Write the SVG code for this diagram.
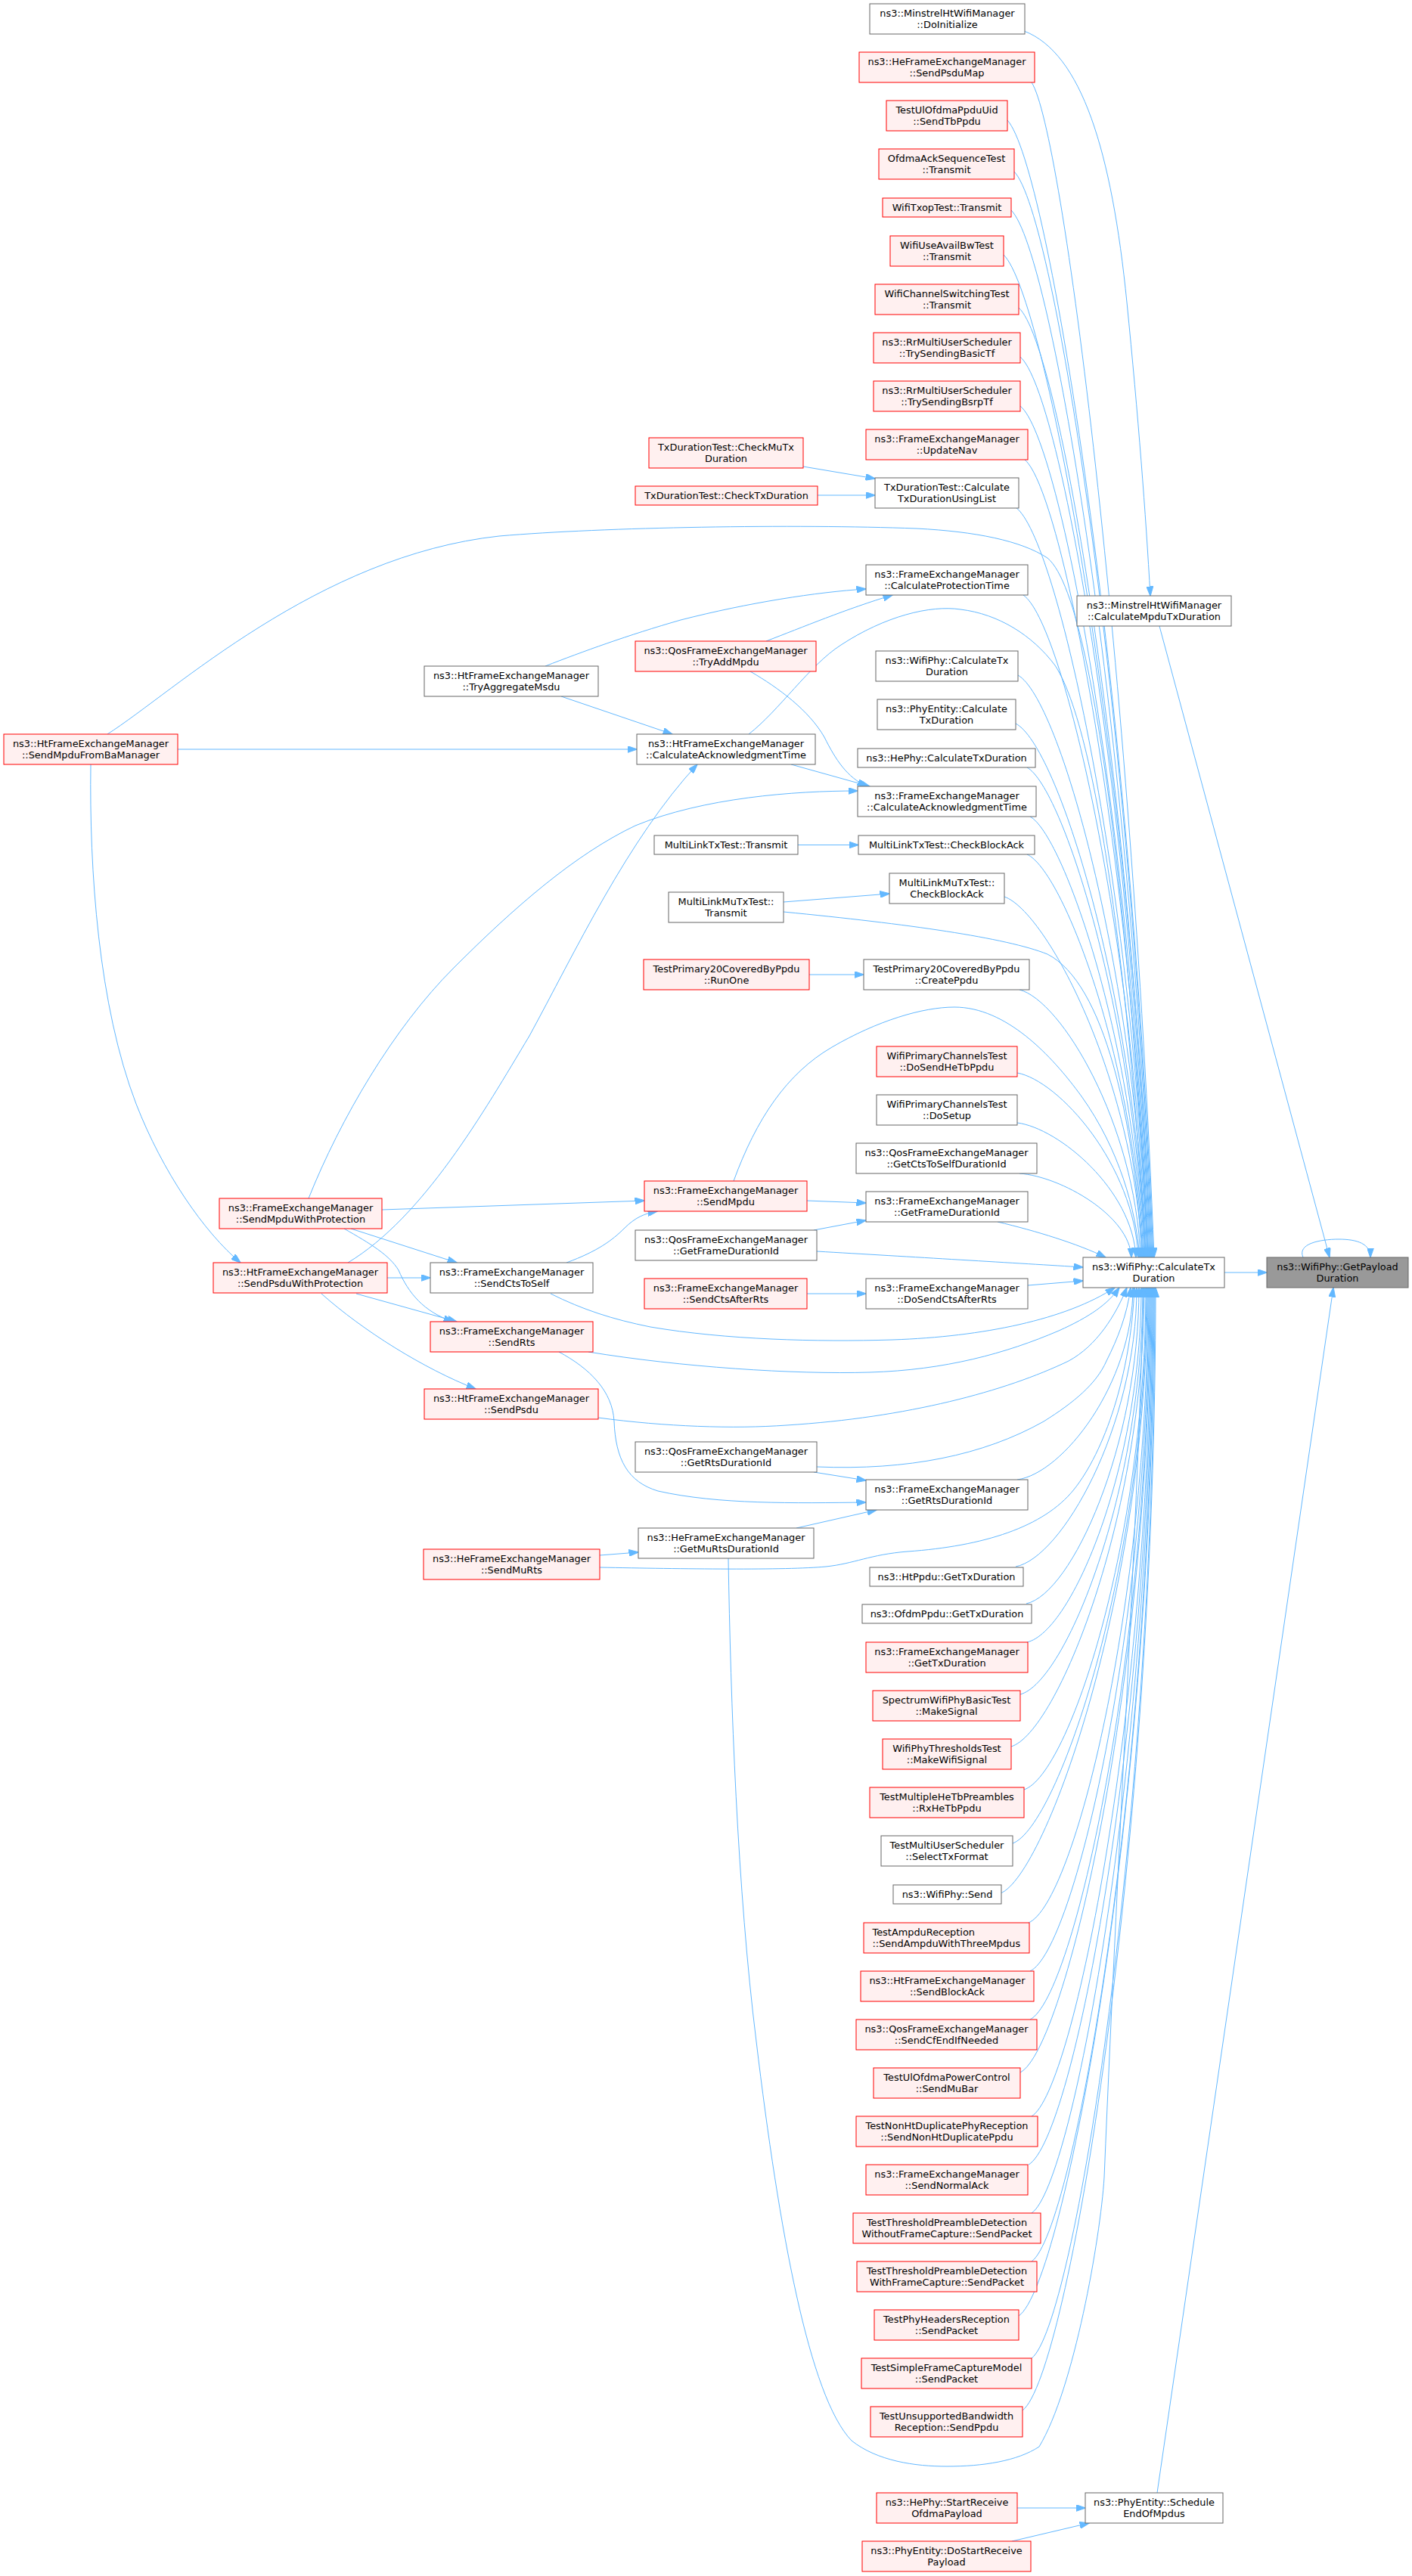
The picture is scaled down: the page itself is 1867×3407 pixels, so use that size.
<svg xmlns="http://www.w3.org/2000/svg" width="1867" height="3407" viewBox="0 0 1867 3407">
<style>
text{font-family:"DejaVu Sans","Liberation Sans",sans-serif;font-size:12.9px;text-anchor:middle;fill:#000}
.g rect{fill:#fff;stroke:#666;stroke-width:1}
.r rect{fill:#fff0f0;stroke:#f00;stroke-width:1}
.root rect{fill:#999;stroke:#666;stroke-width:1}
#edges path{fill:none;stroke:#63b8ff;stroke-width:1;marker-end:url(#ah)}
</style>
<defs>
<marker id="ah" markerWidth="13" markerHeight="9" refX="12.5" refY="4.5" orient="auto" markerUnits="userSpaceOnUse"><path d="M0,0L13,4.5L0,9z" fill="#63b8ff" stroke="#63b8ff" stroke-width="1"/></marker>
</defs>
<rect width="1867" height="3407" fill="#fff"/>
<g id="edges">
<path d="M1364,109 C1405,171 1495,886 1526,1663"/>
<path d="M1332,159 C1387,219 1495,911 1525,1663"/>
<path d="M1341,227 C1396,284 1495,945 1524,1663"/>
<path d="M1337,278 C1392,333 1495,970 1523,1663"/>
<path d="M1327,337 C1382,390 1495,1000 1522,1663"/>
<path d="M1347,407 C1402,457 1496,1035 1521,1663"/>
<path d="M1349,472 C1404,520 1496,1067 1520,1663"/>
<path d="M1349,537 C1404,582 1496,1100 1519,1663"/>
<path d="M1355,608 C1405,650 1497,1135 1518,1663"/>
<path d="M1343,671 C1398,711 1497,1167 1517,1663"/>
<path d="M1353,787 C1405,822 1498,1225 1516,1663"/>
<path d="M1346,893 C1401,924 1500,1278 1515,1663"/>
<path d="M1343,957 C1398,985 1500,1310 1514,1663"/>
<path d="M1358,1015 C1405,1041 1500,1339 1513,1663"/>
<path d="M1362,1080 C1405,1103 1500,1372 1512,1663"/>
<path d="M1358,1130 C1405,1151 1500,1397 1511,1663"/>
<path d="M1328,1186 C1383,1205 1500,1425 1510,1663"/>
<path d="M1348,1309 C1403,1323 1501,1486 1508,1663"/>
<path d="M1345,1419 C1400,1429 1500,1541 1505,1663"/>
<path d="M1345,1485 C1400,1492 1498,1574 1502,1663"/>
<path d="M1348,1552 C1403,1556 1494,1608 1496,1663"/>
<path d="M1319,1616 C1370,1628 1425,1645 1462,1663"/>
<path d="M1359,1700 L1432,1694"/>
<path d="M1345,1957 C1405,1949 1498,1830 1498,1703"/>
<path d="M1343,2072 C1403,2061 1503,1888 1503,1703"/>
<path d="M1357,2121 C1417,2108 1506,1912 1506,1703"/>
<path d="M1358,2172 C1418,2158 1509,1938 1509,1703"/>
<path d="M1349,2241 C1409,2225 1511,1972 1511,1703"/>
<path d="M1337,2310 C1397,2292 1513,2007 1513,1703"/>
<path d="M1354,2367 C1414,2347 1515,2035 1515,1703"/>
<path d="M1339,2438 C1399,2416 1516,2071 1516,1703"/>
<path d="M1323,2504 C1383,2480 1517,2104 1517,1703"/>
<path d="M1360,2543 C1420,2518 1518,2123 1518,1703"/>
<path d="M1362,2607 C1420,2580 1519,2155 1519,1703"/>
<path d="M1362,2671 C1420,2642 1520,2187 1520,1703"/>
<path d="M1349,2741 C1409,2710 1521,2222 1521,1703"/>
<path d="M1364,2799 C1420,2766 1522,2251 1522,1703"/>
<path d="M1360,2863 C1420,2828 1523,2283 1523,1703"/>
<path d="M1364,2927 C1420,2890 1524,2315 1524,1703"/>
<path d="M1364,2991 C1420,2952 1525,2347 1525,1703"/>
<path d="M1347,3063 C1407,3022 1526,2383 1526,1703"/>
<path d="M1364,3119 C1420,3077 1527,2411 1527,1703"/>
<path d="M1352,3188 C1412,3143 1528,2446 1528,1703"/>
<path d="M142,971 C230,915 420,735 660,709 C800,697 1050,693 1212,699 C1290,703 1350,715 1385,738 C1460,800 1505,1400 1518,1663"/>
<path d="M990,971 C1030,940 1070,880 1112,853 C1170,815 1230,800 1270,806 C1320,812 1365,840 1395,880 C1460,980 1500,1400 1515,1663"/>
<path d="M1036,1206 C1200,1222 1330,1240 1385,1262 C1460,1300 1500,1480 1510,1663"/>
<path d="M970,1562 C1000,1480 1040,1420 1100,1385 C1160,1350 1220,1332 1262,1332 C1330,1332 1390,1395 1430,1450 C1480,1520 1502,1600 1507,1663"/>
<path d="M1080,1655 C1200,1662 1350,1671 1432,1676"/>
<path d="M728,1711 C770,1732 810,1745 860,1755 C960,1772 1080,1775 1180,1772 C1300,1768 1410,1745 1474,1703"/>
<path d="M778,1788 C900,1808 1050,1818 1150,1815 C1250,1812 1330,1790 1400,1760 C1440,1742 1465,1725 1480,1703"/>
<path d="M791,1875 C880,1887 970,1890 1040,1885 C1200,1875 1330,1840 1413,1800 C1450,1780 1475,1740 1490,1703"/>
<path d="M1080,1940 C1200,1945 1300,1925 1380,1880 C1420,1855 1450,1830 1463,1800 C1478,1770 1490,1740 1495,1703"/>
<path d="M793,2073 C900,2075 1040,2077 1092,2072 C1130,2068 1150,2056 1200,2052 C1300,2045 1380,2020 1420,1970 C1460,1920 1495,1820 1500,1703"/>
<path d="M963,2061 C966,2250 975,2500 1000,2700 C1030,2950 1070,3170 1126,3228 C1160,3255 1210,3262 1252,3262 C1300,3262 1345,3255 1374,3236 C1420,3160 1455,2960 1460,2880 C1480,2400 1505,2000 1512,1703"/>
<path d="M1062,617 L1157,633"/>
<path d="M1081,655 L1157,655"/>
<path d="M721,881 C770,862 830,840 900,820 C990,797 1080,783 1145,779"/>
<path d="M1013,848 C1060,830 1120,805 1180,787"/>
<path d="M992,888 C1030,910 1070,940 1090,975 C1105,1005 1120,1028 1146,1040"/>
<path d="M742,921 L889,971"/>
<path d="M235,991 L842,991"/>
<path d="M1046,1011 L1150,1040"/>
<path d="M408,1585 C450,1480 520,1360 600,1280 C680,1200 760,1130 840,1092 C930,1055 1050,1046 1134,1046"/>
<path d="M460,1670 C560,1610 640,1470 700,1370 C760,1260 830,1110 922,1011"/>
<path d="M120,1011 C118,1150 130,1330 180,1460 C215,1550 270,1630 318,1670"/>
<path d="M505,1600 L852,1588"/>
<path d="M464,1625 L604,1670"/>
<path d="M455,1625 C490,1645 515,1660 527,1680 C540,1710 560,1735 599,1748"/>
<path d="M512,1690 L569,1690"/>
<path d="M471,1711 L604,1748"/>
<path d="M425,1711 C480,1760 560,1810 629,1837"/>
<path d="M749,1670 C790,1655 810,1640 825,1625 C840,1610 852,1605 869,1602"/>
<path d="M739,1788 C780,1810 810,1840 812,1880 C814,1930 830,1960 870,1972 C950,1990 1050,1988 1145,1987"/>
<path d="M1070,1289 L1142,1289"/>
<path d="M1067,1588 L1145,1591"/>
<path d="M1076,1627 L1145,1614"/>
<path d="M1067,1711 L1145,1711"/>
<path d="M1076,1947 L1145,1958"/>
<path d="M1053,2021 L1159,1997"/>
<path d="M793,2057 L844,2053"/>
<path d="M1055,1117.5 L1135,1117.5"/>
<path d="M1036,1193 L1176,1182"/>
<path d="M1345,3317 L1435,3317"/>
<path d="M1338,3361 L1440,3337"/>
<path d="M1530,3297 L1763,1703"/>
<path d="M1533,828 L1758,1663"/>
<path d="M1619,1683 L1675,1683"/>
<path d="M1723,1663 C1715,1645 1745,1639 1770,1639 C1795,1639 1812,1645 1812,1663"/>
<path d="M1354,41 C1430,70 1470,200 1490,400 C1505,550 1515,680 1521,788"/>
</g>
<g id="nodes">
<g id="n_doinit" class="g"><rect x="1150" y="5" width="205" height="40"/><text x="1252.5" y="21.5">ns3::MinstrelHtWifiManager</text><text x="1252.5" y="36.5">::DoInitialize</text></g>
<g id="n_sendpsdumap" class="r"><rect x="1136" y="69" width="232" height="40"/><text x="1252" y="85.5">ns3::HeFrameExchangeManager</text><text x="1252" y="100.5">::SendPsduMap</text></g>
<g id="n_sendtbppdu" class="r"><rect x="1172" y="133" width="160" height="40"/><text x="1252" y="149.5">TestUlOfdmaPpduUid</text><text x="1252" y="164.5">::SendTbPpdu</text></g>
<g id="n_ofdmaack" class="r"><rect x="1162" y="197" width="179" height="40"/><text x="1251.5" y="213.5">OfdmaAckSequenceTest</text><text x="1251.5" y="228.5">::Transmit</text></g>
<g id="n_txop" class="r"><rect x="1167" y="262" width="170" height="25"/><text x="1252" y="279">WifiTxopTest::Transmit</text></g>
<g id="n_availbw" class="r"><rect x="1177" y="312" width="150" height="40"/><text x="1252" y="328.5">WifiUseAvailBwTest</text><text x="1252" y="343.5">::Transmit</text></g>
<g id="n_chswitch" class="r"><rect x="1157" y="376" width="190" height="40"/><text x="1252" y="392.5">WifiChannelSwitchingTest</text><text x="1252" y="407.5">::Transmit</text></g>
<g id="n_basictf" class="r"><rect x="1155" y="440" width="194" height="40"/><text x="1252" y="456.5">ns3::RrMultiUserScheduler</text><text x="1252" y="471.5">::TrySendingBasicTf</text></g>
<g id="n_bsrptf" class="r"><rect x="1155" y="504" width="194" height="40"/><text x="1252" y="520.5">ns3::RrMultiUserScheduler</text><text x="1252" y="535.5">::TrySendingBsrpTf</text></g>
<g id="n_updatenav" class="r"><rect x="1145" y="568" width="214" height="40"/><text x="1252" y="584.5">ns3::FrameExchangeManager</text><text x="1252" y="599.5">::UpdateNav</text></g>
<g id="n_txdurlist" class="g"><rect x="1157" y="632" width="190" height="40"/><text x="1252" y="648.5">TxDurationTest::Calculate</text><text x="1252" y="663.5">TxDurationUsingList</text></g>
<g id="n_protection" class="g"><rect x="1145" y="747" width="214" height="40"/><text x="1252" y="763.5">ns3::FrameExchangeManager</text><text x="1252" y="778.5">::CalculateProtectionTime</text></g>
<g id="n_wifiphycalc2" class="g"><rect x="1158" y="861" width="188" height="40"/><text x="1252" y="877.5">ns3::WifiPhy::CalculateTx</text><text x="1252" y="892.5">Duration</text></g>
<g id="n_phyentitycalc" class="g"><rect x="1160" y="925" width="183" height="40"/><text x="1251.5" y="941.5">ns3::PhyEntity::Calculate</text><text x="1251.5" y="956.5">TxDuration</text></g>
<g id="n_hephycalc" class="g"><rect x="1134" y="990" width="235" height="25"/><text x="1251.5" y="1007">ns3::HePhy::CalculateTxDuration</text></g>
<g id="n_femack" class="g"><rect x="1134" y="1040" width="236" height="40"/><text x="1252" y="1056.5">ns3::FrameExchangeManager</text><text x="1252" y="1071.5">::CalculateAcknowledgmentTime</text></g>
<g id="n_mltxcheck" class="g"><rect x="1135" y="1105" width="233" height="25"/><text x="1251.5" y="1122">MultiLinkTxTest::CheckBlockAck</text></g>
<g id="n_mlmucheck" class="g"><rect x="1176" y="1155" width="152" height="40"/><text x="1252" y="1171.5">MultiLinkMuTxTest::</text><text x="1252" y="1186.5">CheckBlockAck</text></g>
<g id="n_createppdu" class="g"><rect x="1142" y="1269" width="219" height="40"/><text x="1251.5" y="1285.5">TestPrimary20CoveredByPpdu</text><text x="1251.5" y="1300.5">::CreatePpdu</text></g>
<g id="n_dosendhetb" class="r"><rect x="1159" y="1384" width="186" height="40"/><text x="1252" y="1400.5">WifiPrimaryChannelsTest</text><text x="1252" y="1415.5">::DoSendHeTbPpdu</text></g>
<g id="n_dosetup" class="g"><rect x="1159" y="1448" width="186" height="40"/><text x="1252" y="1464.5">WifiPrimaryChannelsTest</text><text x="1252" y="1479.5">::DoSetup</text></g>
<g id="n_ctstoself" class="g"><rect x="1132" y="1512" width="239" height="40"/><text x="1251.5" y="1528.5">ns3::QosFrameExchangeManager</text><text x="1251.5" y="1543.5">::GetCtsToSelfDurationId</text></g>
<g id="n_femgfdi" class="g"><rect x="1145" y="1576" width="214" height="40"/><text x="1252" y="1592.5">ns3::FrameExchangeManager</text><text x="1252" y="1607.5">::GetFrameDurationId</text></g>
<g id="n_dosendcts" class="g"><rect x="1145" y="1691" width="214" height="40"/><text x="1252" y="1707.5">ns3::FrameExchangeManager</text><text x="1252" y="1722.5">::DoSendCtsAfterRts</text></g>
<g id="n_femgetrts" class="g"><rect x="1145" y="1957" width="214" height="40"/><text x="1252" y="1973.5">ns3::FrameExchangeManager</text><text x="1252" y="1988.5">::GetRtsDurationId</text></g>
<g id="n_htppdu" class="g"><rect x="1150" y="2073" width="203" height="25"/><text x="1251.5" y="2090">ns3::HtPpdu::GetTxDuration</text></g>
<g id="n_ofdmppdu" class="g"><rect x="1140" y="2122" width="224" height="25"/><text x="1252" y="2139">ns3::OfdmPpdu::GetTxDuration</text></g>
<g id="n_femgettx" class="r"><rect x="1145" y="2172" width="214" height="40"/><text x="1252" y="2188.5">ns3::FrameExchangeManager</text><text x="1252" y="2203.5">::GetTxDuration</text></g>
<g id="n_makesignal" class="r"><rect x="1154" y="2236" width="195" height="40"/><text x="1251.5" y="2252.5">SpectrumWifiPhyBasicTest</text><text x="1251.5" y="2267.5">::MakeSignal</text></g>
<g id="n_makewifisignal" class="r"><rect x="1167" y="2300" width="170" height="40"/><text x="1252" y="2316.5">WifiPhyThresholdsTest</text><text x="1252" y="2331.5">::MakeWifiSignal</text></g>
<g id="n_rxhetb" class="r"><rect x="1150" y="2364" width="204" height="40"/><text x="1252" y="2380.5">TestMultipleHeTbPreambles</text><text x="1252" y="2395.5">::RxHeTbPpdu</text></g>
<g id="n_selecttx" class="g"><rect x="1165" y="2428" width="174" height="40"/><text x="1252" y="2444.5">TestMultiUserScheduler</text><text x="1252" y="2459.5">::SelectTxFormat</text></g>
<g id="n_wifiphysend" class="g"><rect x="1181" y="2493" width="143" height="25"/><text x="1252.5" y="2510">ns3::WifiPhy::Send</text></g>
<g id="n_ampdu" class="r"><rect x="1142" y="2543" width="219" height="40"/><text x="1153.5" y="2559.5" style="text-anchor:start">TestAmpduReception</text><text x="1153.5" y="2574.5" style="text-anchor:start">::SendAmpduWithThreeMpdus</text></g>
<g id="n_sendblockack" class="r"><rect x="1138" y="2607" width="229" height="40"/><text x="1252.5" y="2623.5">ns3::HtFrameExchangeManager</text><text x="1252.5" y="2638.5">::SendBlockAck</text></g>
<g id="n_cfend" class="r"><rect x="1132" y="2671" width="239" height="40"/><text x="1251.5" y="2687.5">ns3::QosFrameExchangeManager</text><text x="1251.5" y="2702.5">::SendCfEndIfNeeded</text></g>
<g id="n_mubar" class="r"><rect x="1155" y="2735" width="194" height="40"/><text x="1252" y="2751.5">TestUlOfdmaPowerControl</text><text x="1252" y="2766.5">::SendMuBar</text></g>
<g id="n_nonht" class="r"><rect x="1132" y="2799" width="240" height="40"/><text x="1252" y="2815.5">TestNonHtDuplicatePhyReception</text><text x="1252" y="2830.5">::SendNonHtDuplicatePpdu</text></g>
<g id="n_normalack" class="r"><rect x="1145" y="2863" width="214" height="40"/><text x="1252" y="2879.5">ns3::FrameExchangeManager</text><text x="1252" y="2894.5">::SendNormalAck</text></g>
<g id="n_withoutfc" class="r"><rect x="1128" y="2927" width="248" height="40"/><text x="1252" y="2943.5">TestThresholdPreambleDetection</text><text x="1252" y="2958.5">WithoutFrameCapture::SendPacket</text></g>
<g id="n_withfc" class="r"><rect x="1133" y="2991" width="238" height="40"/><text x="1252" y="3007.5">TestThresholdPreambleDetection</text><text x="1252" y="3022.5">WithFrameCapture::SendPacket</text></g>
<g id="n_phyheaders" class="r"><rect x="1156" y="3055" width="191" height="40"/><text x="1251.5" y="3071.5">TestPhyHeadersReception</text><text x="1251.5" y="3086.5">::SendPacket</text></g>
<g id="n_simplefc" class="r"><rect x="1139" y="3119" width="225" height="40"/><text x="1251.5" y="3135.5">TestSimpleFrameCaptureModel</text><text x="1251.5" y="3150.5">::SendPacket</text></g>
<g id="n_unsupbw" class="r"><rect x="1151" y="3183" width="201" height="40"/><text x="1251.5" y="3199.5">TestUnsupportedBandwidth</text><text x="1251.5" y="3214.5">Reception::SendPpdu</text></g>
<g id="n_hephystart" class="r"><rect x="1159" y="3297" width="186" height="40"/><text x="1252" y="3313.5">ns3::HePhy::StartReceive</text><text x="1252" y="3328.5">OfdmaPayload</text></g>
<g id="n_dostartrx" class="r"><rect x="1140" y="3361" width="223" height="40"/><text x="1251.5" y="3377.5">ns3::PhyEntity::DoStartReceive</text><text x="1251.5" y="3392.5">Payload</text></g>
<g id="n_minstrelcalc" class="g"><rect x="1424" y="788" width="204" height="40"/><text x="1526" y="804.5">ns3::MinstrelHtWifiManager</text><text x="1526" y="819.5">::CalculateMpduTxDuration</text></g>
<g id="n_wifiphycalc" class="g"><rect x="1432" y="1663" width="187" height="40"/><text x="1525.5" y="1679.5">ns3::WifiPhy::CalculateTx</text><text x="1525.5" y="1694.5">Duration</text></g>
<g id="n_schedule" class="g"><rect x="1435" y="3297" width="182" height="40"/><text x="1526" y="3313.5">ns3::PhyEntity::Schedule</text><text x="1526" y="3328.5">EndOfMpdus</text></g>
<g id="n_root" class="root"><rect x="1675" y="1663" width="187" height="40"/><text x="1768.5" y="1679.5">ns3::WifiPhy::GetPayload</text><text x="1768.5" y="1694.5">Duration</text></g>
<g id="n_sendmpdufromba" class="r"><rect x="5" y="971" width="230" height="40"/><text x="120" y="987.5">ns3::HtFrameExchangeManager</text><text x="120" y="1002.5">::SendMpduFromBaManager</text></g>
<g id="n_sendmpduwp" class="r"><rect x="290" y="1585" width="215" height="40"/><text x="397.5" y="1601.5">ns3::FrameExchangeManager</text><text x="397.5" y="1616.5">::SendMpduWithProtection</text></g>
<g id="n_sendpsduwp" class="r"><rect x="282" y="1670" width="230" height="40"/><text x="397" y="1686.5">ns3::HtFrameExchangeManager</text><text x="397" y="1701.5">::SendPsduWithProtection</text></g>
<g id="n_tryaggmsdu" class="g"><rect x="561" y="881" width="230" height="40"/><text x="676" y="897.5">ns3::HtFrameExchangeManager</text><text x="676" y="912.5">::TryAggregateMsdu</text></g>
<g id="n_sendctstoself" class="g"><rect x="569" y="1670" width="215" height="40"/><text x="676.5" y="1686.5">ns3::FrameExchangeManager</text><text x="676.5" y="1701.5">::SendCtsToSelf</text></g>
<g id="n_sendrts" class="r"><rect x="569" y="1748" width="215" height="40"/><text x="676.5" y="1764.5">ns3::FrameExchangeManager</text><text x="676.5" y="1779.5">::SendRts</text></g>
<g id="n_sendpsdu" class="r"><rect x="561" y="1837" width="230" height="40"/><text x="676" y="1853.5">ns3::HtFrameExchangeManager</text><text x="676" y="1868.5">::SendPsdu</text></g>
<g id="n_sendmurts" class="r"><rect x="560" y="2049" width="233" height="40"/><text x="676.5" y="2065.5">ns3::HeFrameExchangeManager</text><text x="676.5" y="2080.5">::SendMuRts</text></g>
<g id="n_checkmutx" class="r"><rect x="858" y="579" width="204" height="40"/><text x="960" y="595.5">TxDurationTest::CheckMuTx</text><text x="960" y="610.5">Duration</text></g>
<g id="n_checktx" class="r"><rect x="840" y="643" width="241" height="25"/><text x="960.5" y="660">TxDurationTest::CheckTxDuration</text></g>
<g id="n_tryaddmpdu" class="r"><rect x="840" y="848" width="239" height="40"/><text x="959.5" y="864.5">ns3::QosFrameExchangeManager</text><text x="959.5" y="879.5">::TryAddMpdu</text></g>
<g id="n_htack" class="g"><rect x="842" y="971" width="236" height="40"/><text x="960" y="987.5">ns3::HtFrameExchangeManager</text><text x="960" y="1002.5">::CalculateAcknowledgmentTime</text></g>
<g id="n_mltx" class="g"><rect x="865" y="1105" width="190" height="25"/><text x="960" y="1122">MultiLinkTxTest::Transmit</text></g>
<g id="n_mlmutx" class="g"><rect x="884" y="1180" width="152" height="40"/><text x="960" y="1196.5">MultiLinkMuTxTest::</text><text x="960" y="1211.5">Transmit</text></g>
<g id="n_runone" class="r"><rect x="851" y="1269" width="219" height="40"/><text x="960.5" y="1285.5">TestPrimary20CoveredByPpdu</text><text x="960.5" y="1300.5">::RunOne</text></g>
<g id="n_sendmpdu" class="r"><rect x="852" y="1562" width="215" height="40"/><text x="959.5" y="1578.5">ns3::FrameExchangeManager</text><text x="959.5" y="1593.5">::SendMpdu</text></g>
<g id="n_qosgfdi" class="g"><rect x="840" y="1627" width="240" height="40"/><text x="960" y="1643.5">ns3::QosFrameExchangeManager</text><text x="960" y="1658.5">::GetFrameDurationId</text></g>
<g id="n_sendctsafterrts" class="r"><rect x="852" y="1691" width="215" height="40"/><text x="959.5" y="1707.5">ns3::FrameExchangeManager</text><text x="959.5" y="1722.5">::SendCtsAfterRts</text></g>
<g id="n_qosgetrts" class="g"><rect x="840" y="1907" width="240" height="40"/><text x="960" y="1923.5">ns3::QosFrameExchangeManager</text><text x="960" y="1938.5">::GetRtsDurationId</text></g>
<g id="n_getmurts" class="g"><rect x="844" y="2021" width="232" height="40"/><text x="960" y="2037.5">ns3::HeFrameExchangeManager</text><text x="960" y="2052.5">::GetMuRtsDurationId</text></g>
</g>
</svg>
